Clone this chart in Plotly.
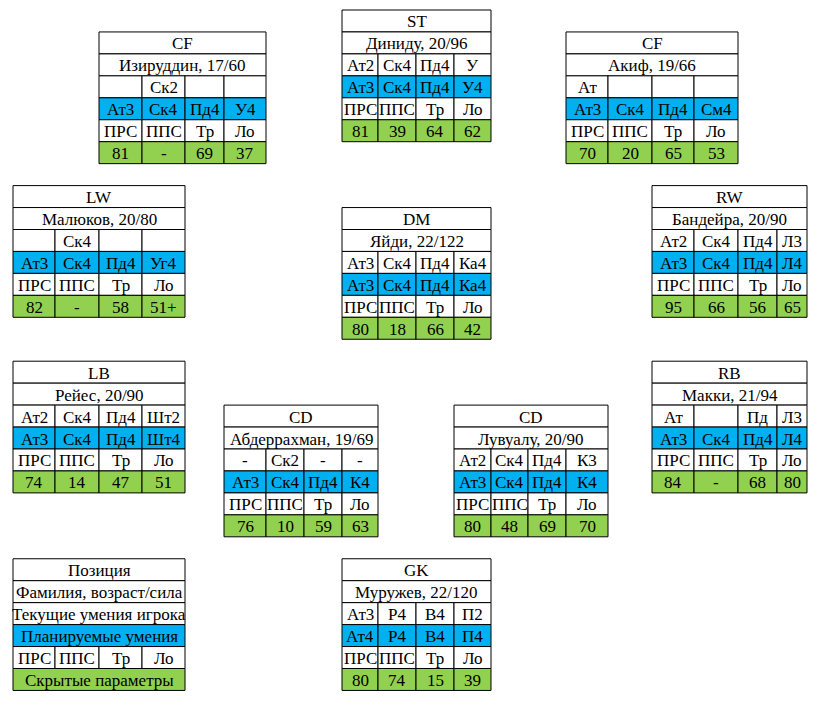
import plotly.graph_objects as go

# --- Данные ---
positions = ["CF", "ST", "CF", "LW", "DM", "RW", "LB", "CD", "CD", "RB", "GK"]
names = [
    "Изируддин, 17/60", "Диниду, 20/96", "Акиф, 19/66",
    "Малюков, 20/80", "Яйди, 22/122", "Бандейра, 20/90",
    "Рейес, 20/90", "Абдеррахман, 19/69", "Лувуалу, 20/90",
    "Макки, 21/94", "Муружев, 22/120",
]
current_skills = [
    ["", "Ск2", "", ""],
    ["Ат2", "Ск4", "Пд4", "У"],
    ["Ат", "", "", ""],
    ["", "Ск4", "", ""],
    ["Ат3", "Ск4", "Пд4", "Ка4"],
    ["Ат2", "Ск4", "Пд4", "Л3"],
    ["Ат2", "Ск4", "Пд4", "Шт2"],
    ["-", "Ск2", "-", "-"],
    ["Ат2", "Ск4", "Пд4", "К3"],
    ["Ат", "", "Пд", "Л3"],
    ["Ат3", "Р4", "В4", "П2"],
]
planned_skills = [
    ["Ат3", "Ск4", "Пд4", "У4"],
    ["Ат3", "Ск4", "Пд4", "У4"],
    ["Ат3", "Ск4", "Пд4", "См4"],
    ["Ат3", "Ск4", "Пд4", "Уг4"],
    ["Ат3", "Ск4", "Пд4", "Ка4"],
    ["Ат3", "Ск4", "Пд4", "Л4"],
    ["Ат3", "Ск4", "Пд4", "Шт4"],
    ["Ат3", "Ск4", "Пд4", "К4"],
    ["Ат3", "Ск4", "Пд4", "К4"],
    ["Ат3", "Ск4", "Пд4", "Л4"],
    ["Ат4", "Р4", "В4", "П4"],
]
hidden_values = [
    ["81", "-", "69", "37"],
    ["81", "39", "64", "62"],
    ["70", "20", "65", "53"],
    ["82", "-", "58", "51+"],
    ["80", "18", "66", "42"],
    ["95", "66", "56", "65"],
    ["74", "14", "47", "51"],
    ["76", "10", "59", "63"],
    ["80", "48", "69", "70"],
    ["84", "-", "68", "80"],
    ["80", "74", "15", "39"],
]
hidden_labels = ["ПРС", "ППС", "Тр", "Ло"]

legend_rows = [
    "Позиция",
    "Фамилия, возраст/сила",
    "Текущие умения игрока",
    "Планируемые умения",
    hidden_labels,
    "Скрытые параметры",
]

# --- Сетка листа (как в Excel) ---
col_x = [13, 55, 99, 142, 185, 224, 266, 304, 342, 378, 416, 454, 491,
         528, 566, 608, 652, 694, 738, 777, 807]
row_y0 = 10
row_h = 21.95
# (начальный столбец, начальная строка) для каждого игрока
block_pos = [(2, 1), (8, 0), (14, 1), (0, 8), (8, 9), (16, 8),
             (0, 16), (5, 18), (11, 18), (16, 16), (8, 25)]
legend_pos = (0, 25)

BLUE = "#00B0F0"
GREEN = "#92D050"
row_fills = ["white", "white", "white", BLUE, "white", GREEN]
FONT = dict(family="Times New Roman, Liberation Serif, serif", size=17, color="black")

fig = go.Figure()
shapes = []
annotations = []


def add_cell(x0, x1, y0, y1, text, fill):
    shapes.append(dict(type="rect", xref="x", yref="y", x0=x0, x1=x1, y0=y0, y1=y1,
                       fillcolor=fill, line=dict(color="black", width=1), layer="below"))
    if text:
        annotations.append(dict(x=(x0 + x1) / 2, y=(y0 + y1) / 2 + 1, xref="x", yref="y",
                                text=text, showarrow=False, font=FONT,
                                xanchor="center", yanchor="middle"))


def draw_block(c0, r0, rows):
    for i, row in enumerate(rows):
        y0 = row_y0 + (r0 + i) * row_h
        y1 = y0 + row_h
        if isinstance(row, str):
            add_cell(col_x[c0], col_x[c0 + 4], y0, y1, row, row_fills[i])
        else:
            for j, t in enumerate(row):
                add_cell(col_x[c0 + j], col_x[c0 + j + 1], y0, y1, t, row_fills[i])


for k in range(len(positions)):
    c0, r0 = block_pos[k]
    draw_block(c0, r0, [positions[k], names[k], current_skills[k],
                        planned_skills[k], hidden_labels, hidden_values[k]])

draw_block(legend_pos[0], legend_pos[1], legend_rows)

# невидимый след, чтобы оси существовали
fig.add_trace(go.Scatter(x=[8, 824], y=[8, 701], mode="markers",
                         marker=dict(opacity=0), hoverinfo="skip", showlegend=False))

# страница браузера добавляет отступ 8px, поэтому график 816x693
fig.update_layout(
    width=816, height=693,
    margin=dict(l=0, r=0, t=0, b=0),
    paper_bgcolor="white", plot_bgcolor="white",
    shapes=shapes, annotations=annotations,
    xaxis=dict(range=[8, 824], visible=False, fixedrange=True),
    yaxis=dict(range=[701, 8], visible=False, fixedrange=True),
    showlegend=False,
)

fig.write_html("out.html")
